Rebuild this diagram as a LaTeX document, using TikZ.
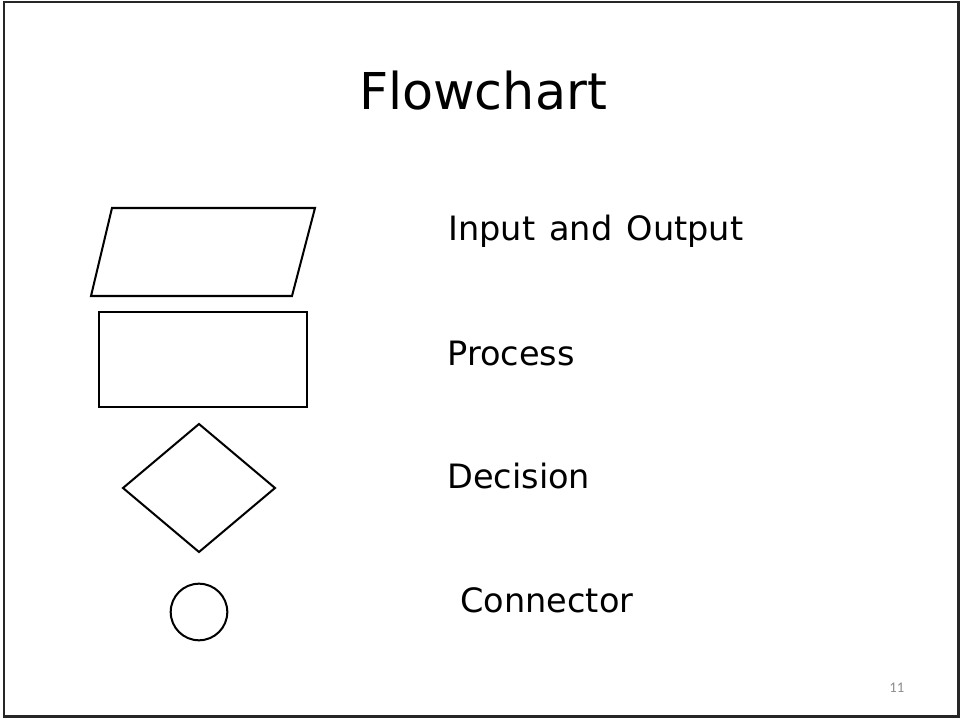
\documentclass[tikz,border=0pt]{standalone}
\usepackage{fontspec}
\setmainfont{DejaVu Sans}
\newfontfamily\numfont{Carlito}
\tikzset{
  symbol/.style = {draw=black,line width=1.15pt,line join=miter},
  label/.style = {anchor=base west,inner sep=0pt,font=\fontsize{19.1}{22}\selectfont}
}

\begin{document}
\begin{tikzpicture}[x=0.02cm,y=-0.02cm]
  \useasboundingbox (0,0) rectangle (961,719);
  % slide frame
  \draw[line width=1.7pt,black!85] (4,2) rectangle (958.5,716.5);
  % title
  \node[anchor=base,inner sep=0pt,font=\fontsize{28.9}{34}\selectfont] (title) at (483,110) {Flowchart};
  % input and output
  \draw[symbol] (112,208) -- (315,208) -- (292,296) -- (91,296) -- cycle;
  \node[label] (io) at (448,241) {\spaceskip=0.42em\relax Input and Output};
  % process
  \draw[symbol] (99,312) rectangle (307,407);
  \node[label] (process) at (447,366) {Process};
  % decision
  \draw[symbol] (199,424) -- (275,488) -- (199,552) -- (123,488) -- cycle;
  \node[label] (decision) at (447,489) {Decision};
  % connector
  \draw[symbol] (199,612) circle (28.3);
  \node[label] (connector) at (460,613) {Connector};
  % page number
  \node[anchor=base west,inner sep=0pt,text=black!45,font=\numfont\fontsize{8.4}{10}\selectfont] (page) at (889,692) {11};
\end{tikzpicture}
\end{document}
